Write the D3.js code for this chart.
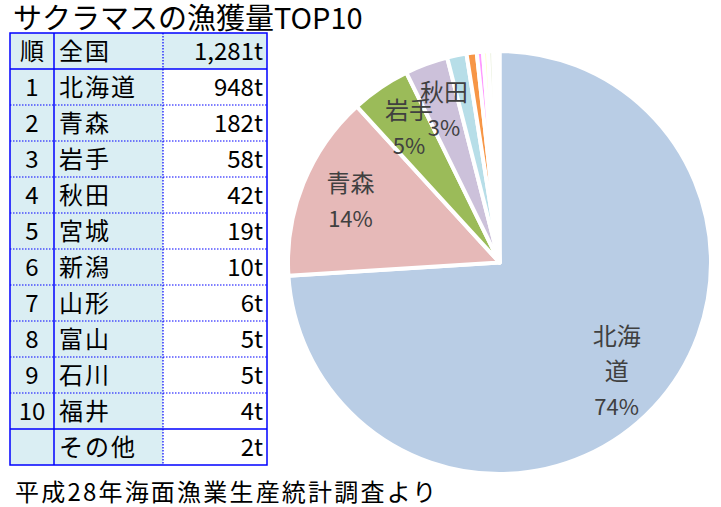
<!DOCTYPE html>
<meta charset="utf-8">
<head>
  <title>サクラマスの漁獲量TOP10</title>
</head>

<style>
body {
  margin: 0;
  background: #fff;
}

svg {
  display: block;
  font-family: "Noto Sans CJK JP", "Noto Sans", sans-serif;
}

.title {
  font-size: 29px;
  fill: #000;
}

.cell text {
  font-size: 24px;
  fill: #000;
}

.cell text.name {
  letter-spacing: 2px;
}

.pie-label {
  font-size: 24px;
  fill: #404040;
}

.pie-label .pct {
  font-size: 22px;
}

.source {
  font-size: 24px;
  letter-spacing: 2.2px;
  fill: #000;
}
</style>

<body>
  <svg width="721" height="507"></svg>

  <script src="https://cdnjs.cloudflare.com/ajax/libs/d3/7.8.5/d3.min.js"></script>

  <script>
var titleText = 'サクラマスの漁獲量TOP10';
var sourceText = '平成28年海面漁業生産統計調査より';

var header = ['順', '全国', '1,281t'];
var totalCatch = 1281;

var ranks = ['1', '2', '3', '4', '5', '6', '7', '8', '9', '10', ''];
var prefectures = ['北海道', '青森', '岩手', '秋田', '宮城', '新潟', '山形', '富山', '石川', '福井', 'その他'];
var catches = [948, 182, 58, 42, 19, 10, 6, 5, 5, 4, 2];

var sliceColors = ['#b9cde5', '#e6b9b8', '#9bbb59', '#ccc1da', '#b7dee8', '#f79646',
  '#ff99ff', '#ffffcc', '#ebf1de', '#fdeada', '#f2f2f2'];

// label lines for the slices that carry a label (others are too thin)
var labelNames = [['北海', '道'], ['青森'], ['岩手'], ['秋田']];

var svg = d3.select('svg');

// Title
svg.append('text')
  .attr('class', 'title')
  .attr('x', 13)
  .attr('y', 29)
  .text(titleText);

// ---- Table ----
var colEdges = [10, 54, 163, 267];
var tableTop = 33, rowH = 36;
var nRows = ranks.length + 1;

var rows = [header].concat(ranks.map(function(r, i) {
  return [r, prefectures[i], catches[i] + 't'];
}));

var y = d3.scaleLinear().domain([0, nRows]).range([tableTop, tableTop + nRows * rowH]);

var table = svg.append('g').attr('class', 'table');

rows.forEach(function(row, i) {
  var g = table.append('g').attr('class', 'cell');
  row.forEach(function(val, j) {
    var fill = (j < 2 || i === 0) ? '#daeef3' : '#ffffff';
    g.append('rect')
      .attr('x', colEdges[j])
      .attr('y', y(i))
      .attr('width', colEdges[j + 1] - colEdges[j])
      .attr('height', rowH)
      .attr('fill', fill);
    var tx = j === 0 ? (colEdges[0] + colEdges[1]) / 2 : j === 1 ? colEdges[1] + 5 : colEdges[3] - 4;
    g.append('text')
      .attr('class', j === 1 ? 'name' : null)
      .attr('x', tx)
      .attr('y', y(i) + rowH / 2 + 8.5)
      .attr('text-anchor', j === 0 ? 'middle' : j === 1 ? 'start' : 'end')
      .text(val);
  });
});

// grid lines
for (var i = 1; i < nRows; i++) {
  var solid = (i === 1 || i === nRows - 1);
  table.append('line')
    .attr('x1', colEdges[0]).attr('x2', colEdges[3])
    .attr('y1', y(i)).attr('y2', y(i))
    .attr('stroke', '#0000ff')
    .attr('stroke-width', solid ? 1.5 : 1.2)
    .attr('stroke-dasharray', solid ? null : '1.5,1.5');
}
table.append('line')
  .attr('x1', colEdges[1]).attr('x2', colEdges[1])
  .attr('y1', y(0)).attr('y2', y(nRows))
  .attr('stroke', '#0000ff').attr('stroke-width', 1.5);
table.append('line')
  .attr('x1', colEdges[2]).attr('x2', colEdges[2])
  .attr('y1', y(0)).attr('y2', y(nRows))
  .attr('stroke', '#0000ff').attr('stroke-width', 1.2)
  .attr('stroke-dasharray', '1.5,1.5');
table.append('rect')
  .attr('x', colEdges[0]).attr('y', y(0))
  .attr('width', colEdges[3] - colEdges[0])
  .attr('height', nRows * rowH)
  .attr('fill', 'none')
  .attr('stroke', '#0000ff')
  .attr('stroke-width', 1.5);

// ---- Pie ----
var cx = 499.5, cy = 262.5, radius = 211.5;

var pie = d3.pie().sort(null).value(function(d) { return d; });
var arcs = pie(catches);

var arc = d3.arc().innerRadius(0).outerRadius(radius);
var labelArc = d3.arc().innerRadius(radius * 0.76).outerRadius(radius * 0.76);

var pieG = svg.append('g').attr('transform', 'translate(' + cx + ',' + cy + ')');

pieG.selectAll('path')
  .data(arcs)
  .enter()
  .append('path')
  .attr('d', arc)
  .attr('fill', function(d, i) { return sliceColors[i]; })
  .attr('stroke', '#fff')
  .attr('stroke-width', 4)
  .attr('stroke-linejoin', 'round');

var lineH = 35;
pieG.selectAll('text.pie-label')
  .data(arcs.slice(0, labelNames.length))
  .enter()
  .append('text')
  .attr('class', 'pie-label')
  .attr('text-anchor', 'middle')
  .each(function(d, i) {
    var c = labelArc.centroid(d);
    var lines = labelNames[i].concat([Math.round(d.value / totalCatch * 100) + '%']);
    var startY = c[1] - (lines.length - 1) * lineH / 2 + 7;
    var t = d3.select(this);
    lines.forEach(function(l, k) {
      t.append('tspan')
        .attr('class', k === lines.length - 1 ? 'pct' : null)
        .attr('x', c[0])
        .attr('y', startY + k * lineH)
        .text(l);
    });
  });

// Source note
svg.append('text')
  .attr('class', 'source')
  .attr('x', 15)
  .attr('y', 501)
  .text(sourceText);
  </script>
</body>
</html>
